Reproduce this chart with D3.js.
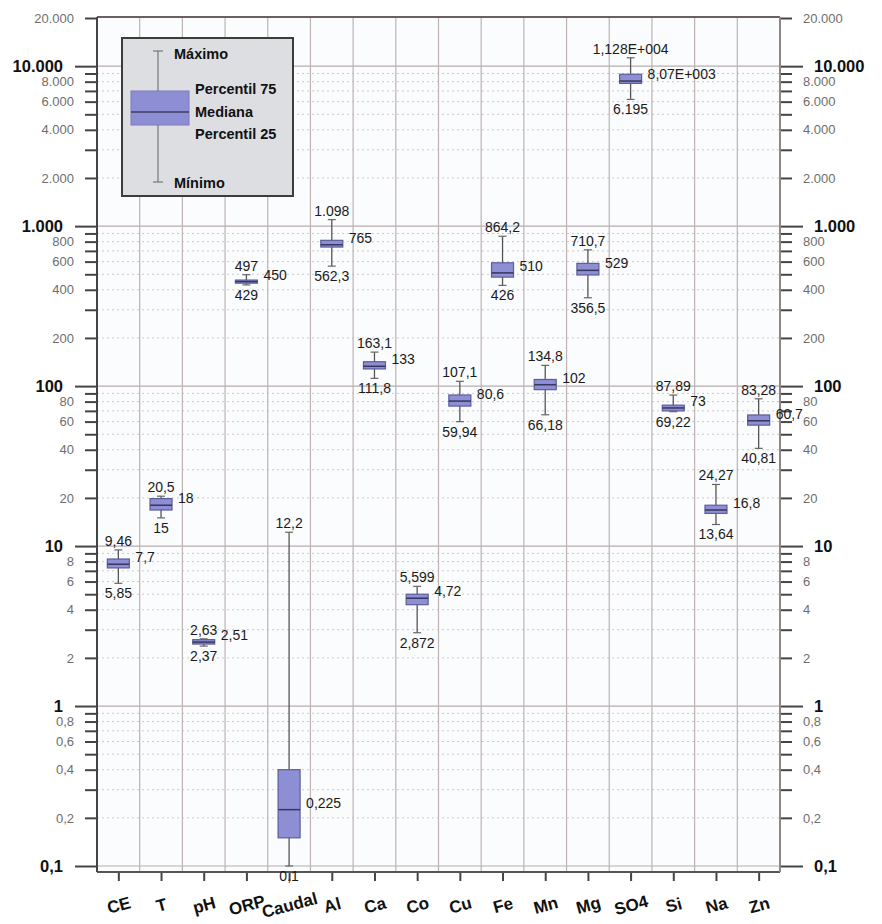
<!DOCTYPE html>
<html lang="es">
<head>
<meta charset="UTF-8">
<title>Diagrama de cajas</title>
<script src="https://d3js.org/d3.v7.min.js"></script>
<style>
    body { margin: 0; background: #ffffff; font-family: Arial, "Liberation Sans", sans-serif; }
    svg { display: block; }
    .grid-major { stroke: #b9aeae; stroke-width: 1.2; }
    .grid-minor { stroke: #d3c8c8; stroke-width: 1; stroke-dasharray: 2,3; }
    .grid-vert { stroke: #bdb3b3; stroke-width: 1.2; }
    .val { font-size: 14px; fill: #1a1a1a; }
    .major-lbl { font-size: 16.5px; font-weight: bold; fill: #111; }
    .minor-lbl { font-size: 13px; fill: #6e6e6e; }
    .cat-lbl { font-size: 17px; font-weight: bold; fill: #111; }
    .leg-lbl { font-size: 14.5px; font-weight: bold; fill: #111; }
</style>
</head>
<body>
<svg id="chart" width="882" height="924"></svg>
<script>
// Datos del gráfico
const categories = ['CE', 'T', 'pH', 'ORP', 'Caudal', 'Al', 'Ca', 'Co', 'Cu', 'Fe', 'Mn', 'Mg', 'SO4', 'Si', 'Na', 'Zn'];
const maxValues = [9.46, 20.5, 2.63, 497, 12.2, 1098, 163.1, 5.599, 107.1, 864.2, 134.8, 710.7, 11280, 87.89, 24.27, 83.28];
const q3Values = [8.3, 19.8, 2.6, 460, 0.4, 815, 142, 5.0, 88, 590, 110, 585, 8900, 76, 18, 66];
const medianValues = [7.7, 18, 2.51, 450, 0.225, 765, 133, 4.72, 80.6, 510, 102, 529, 8070, 73, 16.8, 60.7];
const q1Values = [7.3, 16.8, 2.44, 440, 0.15, 740, 128, 4.3, 75, 480, 95, 495, 7800, 70, 16, 57];
const minValues = [5.85, 15, 2.37, 429, 0.1, 562.3, 111.8, 2.872, 59.94, 426, 66.18, 356.5, 6195, 69.22, 13.64, 40.81];

const maxLabels = ['9,46', '20,5', '2,63', '497', '12,2', '1.098', '163,1', '5,599', '107,1', '864,2', '134,8', '710,7', '1,128E+004', '87,89', '24,27', '83,28'];
const medianLabels = ['7,7', '18', '2,51', '450', '0,225', '765', '133', '4,72', '80,6', '510', '102', '529', '8,07E+003', '73', '16,8', '60,7'];
const minLabels = ['5,85', '15', '2,37', '429', '0,1', '562,3', '111,8', '2,872', '59,94', '426', '66,18', '356,5', '6.195', '69,22', '13,64', '40,81'];

const majorTicks = [0.1, 1, 10, 100, 1000, 10000];
const labeledMinorTicks = [0.2, 0.4, 0.6, 0.8, 2, 4, 6, 8, 20, 40, 60, 80, 200, 400, 600, 800, 2000, 4000, 6000, 8000, 20000];
const legendLabels = ['Máximo', 'Percentil 75', 'Mediana', 'Percentil 25', 'Mínimo'];

const svg = d3.select('#chart');
const plotLeft = 97, plotRight = 780, plotTop = 17, plotBottom = 872;

const y = d3.scaleLog().domain([0.1, 20000]).range([866, 18]);
const x = d3.scalePoint().domain(categories).range([plotLeft, plotRight]).padding(0.5);
const step = x.step();

const locale = d3.formatLocale({ decimal: ',', thousands: '.', grouping: [3], currency: ['', ''] });
const fmt = v => v < 1 ? locale.format(',.1f')(v) : locale.format(',d')(v);

// all minor ticks (2..9 x 10^n)
const minorTicks = [];
for (let e = -1; e <= 4; e++) {
    for (let m = 2; m <= 9; m++) {
        const v = +(m * Math.pow(10, e)).toPrecision(3);
        if (v < 20000) minorTicks.push(v);
    }
}
minorTicks.push(20000);

// fondo del área de gráfico
svg.append('rect').attr('x', plotLeft).attr('y', plotTop).attr('width', plotRight - plotLeft).attr('height', plotBottom - plotTop)
    .attr('fill', '#fbfcfd');

// grid
const grid = svg.append('g');
grid.selectAll('.grid-minor').data(minorTicks.filter(v => v < 20000)).enter().append('line')
    .attr('class', 'grid-minor')
    .attr('x1', plotLeft).attr('x2', plotRight)
    .attr('y1', d => y(d)).attr('y2', d => y(d));
grid.selectAll('.grid-major').data(majorTicks).enter().append('line')
    .attr('class', 'grid-major')
    .attr('x1', plotLeft).attr('x2', plotRight)
    .attr('y1', d => y(d)).attr('y2', d => y(d));
grid.selectAll('.grid-vert').data(categories.slice(1)).enter().append('line')
    .attr('class', 'grid-vert')
    .attr('x1', d => x(d) - step / 2).attr('x2', d => x(d) - step / 2)
    .attr('y1', plotTop).attr('y2', plotBottom);

// ejes Y
function styleAxis(g, cls, color) {
    g.select('.domain').remove();
    g.selectAll('.tick line').attr('stroke', color).attr('stroke-width', 2);
    g.selectAll('.tick text').attr('class', cls).attr('font-family', null).attr('font-size', null).attr('fill', null);
}
const isLabeled = v => labeledMinorTicks.indexOf(v) >= 0;

svg.append('g').attr('transform', `translate(${plotLeft},0)`)
    .call(d3.axisLeft(y).tickValues(minorTicks).tickSize(12).tickPadding(11).tickFormat(d => isLabeled(d) ? fmt(d) : ''))
    .call(g => styleAxis(g, 'minor-lbl', '#444'));
svg.append('g').attr('transform', `translate(${plotLeft},0)`)
    .call(d3.axisLeft(y).tickValues(majorTicks).tickSize(22).tickPadding(12).tickFormat(fmt))
    .call(g => styleAxis(g, 'major-lbl', '#444'));

svg.append('g').attr('transform', `translate(${plotRight},0)`)
    .call(d3.axisRight(y).tickValues(minorTicks).tickSize(12).tickPadding(11).tickFormat(d => isLabeled(d) ? fmt(d) : ''))
    .call(g => styleAxis(g, 'minor-lbl', '#444'));
svg.append('g').attr('transform', `translate(${plotRight},0)`)
    .call(d3.axisRight(y).tickValues(majorTicks).tickSize(23).tickPadding(11).tickFormat(fmt))
    .call(g => styleAxis(g, 'major-lbl', '#444'));

// eje X
const xAxis = svg.append('g').attr('transform', `translate(0,${plotBottom})`)
    .call(d3.axisBottom(x).tickSize(9).tickFormat(d => d));
xAxis.select('.domain').remove();
xAxis.selectAll('.tick line').attr('stroke', '#444').attr('stroke-width', 2);
xAxis.selectAll('.tick text')
    .attr('class', 'cat-lbl').attr('font-family', null).attr('font-size', null).attr('fill', null)
    .attr('dy', '0.35em').attr('y', 0)
    .attr('transform', 'translate(0,33) rotate(-15)');

// marco
svg.append('line').attr('x1', plotLeft).attr('x2', plotRight).attr('y1', plotTop).attr('y2', plotTop)
    .attr('stroke', '#6a6060').attr('stroke-width', 2);
svg.append('line').attr('x1', plotLeft).attr('x2', plotRight).attr('y1', plotBottom).attr('y2', plotBottom)
    .attr('stroke', '#555').attr('stroke-width', 2);
svg.append('line').attr('x1', plotLeft).attr('x2', plotLeft).attr('y1', plotTop).attr('y2', plotBottom)
    .attr('stroke', '#444').attr('stroke-width', 2);
svg.append('line').attr('x1', plotRight).attr('x2', plotRight).attr('y1', plotTop).attr('y2', plotBottom)
    .attr('stroke', '#8f8585').attr('stroke-width', 2);

// cajas
const boxW = 22, capW = 8;
const rows = categories.map((c, i) => ({
    cat: c, max: maxValues[i], q3: q3Values[i], med: medianValues[i], q1: q1Values[i], min: minValues[i],
    maxL: maxLabels[i], medL: medianLabels[i], minL: minLabels[i]
}));

const box = svg.append('g').selectAll('g').data(rows).enter().append('g');
box.append('line')
    .attr('x1', d => x(d.cat)).attr('x2', d => x(d.cat))
    .attr('y1', d => y(d.max)).attr('y2', d => y(d.min))
    .attr('stroke', '#555').attr('stroke-width', 1.3);
box.append('line')
    .attr('x1', d => x(d.cat) - capW / 2).attr('x2', d => x(d.cat) + capW / 2)
    .attr('y1', d => y(d.max)).attr('y2', d => y(d.max))
    .attr('stroke', '#666').attr('stroke-width', 1.2);
box.append('line')
    .attr('x1', d => x(d.cat) - capW / 2).attr('x2', d => x(d.cat) + capW / 2)
    .attr('y1', d => y(d.min)).attr('y2', d => y(d.min))
    .attr('stroke', '#666').attr('stroke-width', 1.2);
box.append('rect')
    .attr('x', d => x(d.cat) - boxW / 2).attr('width', boxW)
    .attr('y', d => y(d.q3)).attr('height', d => Math.max(3, y(d.q1) - y(d.q3)))
    .attr('fill', '#8e8ed4').attr('stroke', '#5d5d9a').attr('stroke-width', 1.2);
box.append('line')
    .attr('x1', d => x(d.cat) - boxW / 2).attr('x2', d => x(d.cat) + boxW / 2)
    .attr('y1', d => y(d.med)).attr('y2', d => y(d.med))
    .attr('stroke', '#36365e').attr('stroke-width', 1.5);

// etiquetas de valores
box.append('text').attr('class', 'val')
    .attr('x', d => x(d.cat)).attr('y', d => y(d.max) - 4)
    .attr('text-anchor', 'middle').text(d => d.maxL);
box.append('text').attr('class', 'val')
    .attr('x', d => x(d.cat) + 17).attr('y', d => y(d.med) - 2)
    .text(d => d.medL);
box.append('text').attr('class', 'val')
    .attr('x', d => x(d.cat)).attr('y', d => y(d.min) + 15)
    .attr('text-anchor', 'middle').text(d => d.minL);

// leyenda
const leg = svg.append('g');
leg.append('rect').attr('x', 122).attr('y', 38).attr('width', 171).attr('height', 158)
    .attr('fill', '#dcdee2').attr('stroke', '#3c3c3c').attr('stroke-width', 2);
leg.append('line').attr('x1', 158).attr('x2', 158).attr('y1', 51).attr('y2', 182)
    .attr('stroke', '#777').attr('stroke-width', 1.2);
leg.append('line').attr('x1', 153).attr('x2', 163).attr('y1', 51).attr('y2', 51)
    .attr('stroke', '#777').attr('stroke-width', 1.2);
leg.append('line').attr('x1', 153).attr('x2', 163).attr('y1', 182).attr('y2', 182)
    .attr('stroke', '#777').attr('stroke-width', 1.2);
leg.append('rect').attr('x', 131).attr('y', 91).attr('width', 58).attr('height', 34)
    .attr('fill', '#8e8ed4').attr('stroke', '#7a7ab8').attr('stroke-width', 1);
leg.append('line').attr('x1', 131).attr('x2', 189).attr('y1', 112).attr('y2', 112)
    .attr('stroke', '#3e3e66').attr('stroke-width', 1.5);
const legPos = [[174, 54], [195, 89], [195, 112], [195, 134], [174, 183]];
leg.selectAll('.leg-lbl').data(legendLabels).enter().append('text')
    .attr('class', 'leg-lbl')
    .attr('x', (d, i) => legPos[i][0]).attr('y', (d, i) => legPos[i][1] + 5)
    .text(d => d);
</script>
</body>
</html>
